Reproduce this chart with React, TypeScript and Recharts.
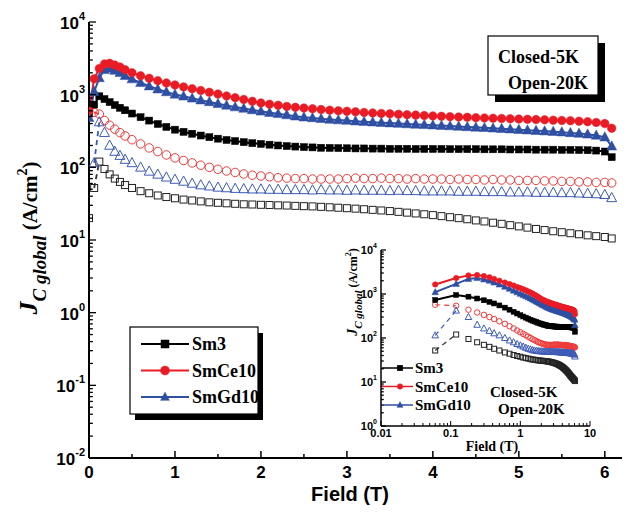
import React from 'react';
import { LineChart, Line, XAxis, YAxis } from 'recharts';

// field in tesla
const field = [
  0, 0.06, 0.12, 0.18, 0.24, 0.3, 0.36, 0.42,
  0.5, 0.6, 0.7, 0.8, 0.9,
  1.0, 1.1, 1.2, 1.3, 1.4, 1.5, 1.6, 1.7, 1.8, 1.9,
  2.0, 2.1, 2.2, 2.3, 2.4, 2.5, 2.6, 2.7, 2.8, 2.9,
  3.0, 3.1, 3.2, 3.3, 3.4, 3.5, 3.6, 3.7, 3.8, 3.9,
  4.0, 4.1, 4.2, 4.3, 4.4, 4.5, 4.6, 4.7, 4.8, 4.9,
  5.0, 5.1, 5.2, 5.3, 5.4, 5.5, 5.6, 5.7, 5.8, 5.9,
  6.0, 6.08,
];

// closed symbols: 5 K
const sm3Closed = [
  560, 730, 950, 870, 790, 720, 660, 610,
  550, 490, 440, 395, 360,
  330, 308, 290, 274, 260, 248, 238, 230, 222, 215,
  210, 205, 200, 196, 193, 190, 188, 186, 185, 184,
  183, 182, 182, 181, 181, 180, 180, 180, 179, 179,
  179, 179, 178, 178, 178, 178, 177, 177, 177, 176,
  176, 176, 175, 175, 175, 174, 174, 173, 172, 170,
  165, 138,
];
const smCe10Closed = [
  600, 1650, 2300, 2650, 2700, 2550, 2400, 2200,
  2000, 1820, 1680, 1560, 1450,
  1360, 1280, 1210, 1140, 1080, 1020, 960, 910, 860, 810,
  770, 740, 715, 690, 670, 655, 640, 625, 612, 600,
  590, 580, 570, 560, 552, 545, 538, 530, 523, 516,
  510, 504, 498, 493, 488, 483, 478, 474, 470, 466,
  462, 458, 454, 450, 446, 442, 437, 432, 425, 415,
  400, 345,
];
const smGd10Closed = [
  480, 1100, 1700, 2200, 2300, 2150, 2000, 1820,
  1640, 1460, 1310, 1190, 1090,
  1010, 950, 890, 840, 795, 750, 710, 675, 645, 615,
  590, 565, 545, 525, 505, 490, 478, 466, 456, 447,
  440, 432, 425, 418, 412, 406, 400, 395, 390, 385,
  380, 375, 370, 365, 360, 355, 350, 345, 340, 335,
  330, 325, 320, 315, 310, 305, 298, 292, 285, 275,
  260, 195,
];

// open symbols: 20 K
const sm3Open = [
  20, 52, 120, 95, 80, 70, 63, 57,
  52, 47, 44, 41, 39,
  37.5, 36, 35, 34, 33, 32.5, 32, 31.5, 31, 30.8,
  30.5, 30.3, 30, 29.8, 29.5, 29.2, 29, 28.6, 28.2, 27.8,
  27.4, 27, 26.5, 26, 25.5, 25, 24.4, 23.8, 23.2, 22.6,
  22, 21.3, 20.6, 20, 19.3, 18.6, 18, 17.3, 16.7, 16,
  15.4, 14.8, 14.2, 13.7, 13.2, 12.8, 12.4, 12, 11.6, 11.3,
  11, 10.5,
];
const smCe10Open = [
  null, 570, 540, 440, 380, 335, 300, 270,
  240, 210, 185, 165, 148,
  135, 124, 115, 107, 100, 94, 89, 85, 81, 78,
  76, 74, 72, 71, 70, 70, 69, 69, 69, 69,
  70, 71, 70, 70, 71, 70, 70, 69, 70, 69,
  69, 69, 68, 69, 68, 68, 67, 68, 67, 67,
  66, 66, 66, 65, 65, 64, 64, 63, 63, 62,
  62, 61,
];
const smGd10Open = [
  null, 115, 420, 300, 200, 165, 145, 128,
  115, 100, 88, 80, 73,
  68, 64, 60, 57, 55, 53, 52, 51, 50.5, 50,
  50, 49.5, 49.5, 49, 49, 49, 48.5, 49, 48.5, 48.5,
  48, 48.5, 48, 48, 48, 47.5, 48, 47.5, 47.5, 47,
  47, 47, 47, 46.5, 46.5, 46.5, 46, 46, 46, 45.5,
  45.5, 45.5, 45, 45, 45, 44.5, 44.5, 44, 43.5, 43,
  42, 38,
];

const seriesNames = ['Sm3', 'SmCe10', 'SmGd10'];
const mainXTicks = [0, 0.5, 1, 1.5, 2, 2.5, 3, 3.5, 4, 4.5, 5, 5.5, 6];
const mainYMajor = [0.01, 0.1, 1, 10, 100, 1000, 10000];
const insetXMajor = [0.01, 0.1, 1, 10];
const insetYMajor = [1, 10, 100, 1000, 10000];
const minorSteps = [2, 3, 4, 5, 6, 7, 8, 9];

const withMinor = (major: number[]) => {
  const out: number[] = [];
  major.forEach((m, i) => {
    out.push(m);
    if (i < major.length - 1) minorSteps.forEach((s) => out.push(+(m * s).toPrecision(6)));
  });
  return out;
};

const RED = '#e91c26';
const BLUE = '#2f4fa3';
const RED_OPEN = '#ee3a3a';
const BLUE_OPEN = '#3d5bb5';
const SANS = '"Liberation Sans", Arial, sans-serif';
const SERIF = '"Liberation Serif", "Times New Roman", serif';

const rows = field.map((f, i) => ({
  field: f,
  sm3Closed: sm3Closed[i],
  smCe10Closed: smCe10Closed[i],
  smGd10Closed: smGd10Closed[i],
  sm3Open: sm3Open[i],
  smCe10Open: smCe10Open[i],
  smGd10Open: smGd10Open[i],
  sm3OpenDash: i === 1 || i === 2 ? sm3Open[i] : null,
  smCe10OpenDash: i === 1 || i === 2 ? smCe10Open[i] : null,
  smGd10OpenDash: i === 1 || i === 2 ? smGd10Open[i] : null,
}));
const insetRows = rows.filter((r) => r.field > 0);

type Shape = 'square' | 'circle' | 'triangle';

const drawMarker = (shape: Shape, cx: number, cy: number, s: number, color: string, filled: boolean, key?: any) => {
  const fill = filled ? color : 'none';
  const sw = filled ? 0.5 : 1;
  if (shape === 'square')
    return <rect key={key} x={cx - s / 2} y={cy - s / 2} width={s} height={s} fill={fill} stroke={color} strokeWidth={sw} />;
  if (shape === 'circle')
    return <circle key={key} cx={cx} cy={cy} r={s / 2} fill={fill} stroke={color} strokeWidth={sw} />;
  const pts = `${cx},${cy - s * 0.6} ${cx - s * 0.55},${cy + s * 0.42} ${cx + s * 0.55},${cy + s * 0.42}`;
  return <polygon key={key} points={pts} fill={fill} stroke={color} strokeWidth={sw} />;
};

const dotFn = (shape: Shape, s: number, color: string, filled: boolean) => (p: any) => {
  if (p.cx == null || p.cy == null || !Number.isFinite(p.cy) || p.value == null)
    return <g key={p.index} />;
  return drawMarker(shape, p.cx, p.cy, s, color, filled, p.index);
};

const isMajor = (v: number) => Math.abs(Math.log10(v) - Math.round(Math.log10(v))) < 1e-6;

const logYTick = (fs: number, supFs: number, len: number, base: number, dy: number) => (p: any) => {
  const v = p.payload.value;
  const major = isMajor(v);
  return (
    <g>
      <line x1={p.x} x2={p.x + (major ? len : len * 0.55)} y1={p.y} y2={p.y} stroke="#000" strokeWidth={1.3} />
      {major && (
        <text x={p.x - 4} y={p.y + base} textAnchor="end" fontFamily={SANS} fontWeight="bold" fontSize={fs} fill="#000">
          10<tspan dy={dy} fontSize={supFs}>{Math.round(Math.log10(v))}</tspan>
        </text>
      )}
    </g>
  );
};

const mainXTick = (p: any) => {
  const v = p.payload.value;
  const major = Number.isInteger(v);
  return (
    <g>
      <line x1={p.x} x2={p.x} y1={p.y} y2={p.y - (major ? 7 : 4)} stroke="#000" strokeWidth={1.5} />
      {major && (
        <text x={p.x} y={p.y + 20} textAnchor="middle" fontFamily={SANS} fontWeight="bold" fontSize={17} fill="#000">
          {v}
        </text>
      )}
    </g>
  );
};

const insetXTick = (p: any) => {
  const v = p.payload.value;
  const major = isMajor(v);
  return (
    <g>
      <line x1={p.x} x2={p.x} y1={p.y} y2={p.y - (major ? 5 : 3)} stroke="#000" strokeWidth={1} />
      {major && (
        <text x={p.x} y={p.y + 11} textAnchor="middle" fontFamily={SANS} fontWeight="bold" fontSize={11} fill="#000">
          {v}
        </text>
      )}
    </g>
  );
};

const renderSeries = (sq: number, ci: number, tr: number, dashW: number) => [
  <Line key="d1" dataKey="sm3OpenDash" stroke="#333" strokeWidth={dashW} strokeDasharray="5 4" dot={false} activeDot={false} isAnimationActive={false} />,
  <Line key="d2" dataKey="smCe10OpenDash" stroke={RED_OPEN} strokeWidth={dashW} strokeDasharray="5 4" dot={false} activeDot={false} isAnimationActive={false} />,
  <Line key="d3" dataKey="smGd10OpenDash" stroke={BLUE_OPEN} strokeWidth={dashW} strokeDasharray="5 4" dot={false} activeDot={false} isAnimationActive={false} />,
  <Line key="o1" dataKey="sm3Open" stroke="none" dot={dotFn('square', sq, '#222', false)} activeDot={false} isAnimationActive={false} />,
  <Line key="o2" dataKey="smCe10Open" stroke="none" dot={dotFn('circle', ci, RED_OPEN, false)} activeDot={false} isAnimationActive={false} />,
  <Line key="o3" dataKey="smGd10Open" stroke="none" dot={dotFn('triangle', tr, BLUE_OPEN, false)} activeDot={false} isAnimationActive={false} />,
  <Line key="c1" dataKey="sm3Closed" stroke="#000" strokeWidth={2} dot={dotFn('square', sq, '#000', true)} activeDot={false} isAnimationActive={false} />,
  <Line key="c3" dataKey="smGd10Closed" stroke={BLUE} strokeWidth={2} dot={dotFn('triangle', tr, BLUE, true)} activeDot={false} isAnimationActive={false} />,
  <Line key="c2" dataKey="smCe10Closed" stroke={RED} strokeWidth={2} dot={dotFn('circle', ci, RED, true)} activeDot={false} isAnimationActive={false} />,
];

const legendColors = ['#000', RED, BLUE];
const legendShapes: Shape[] = ['square', 'circle', 'triangle'];

export default function App() {
  return (
    <div style={{ position: 'absolute', left: 0, top: 0, width: 630, height: 513, background: '#fff' }}>
      <div style={{ position: 'absolute', left: 0, top: 0 }}>
        <LineChart width={630} height={513} data={rows} margin={{ top: 22, right: 8, left: 0, bottom: 0 }}>
          <XAxis dataKey="field" type="number" domain={[0, 6.2]} allowDataOverflow ticks={mainXTicks} interval={0}
            height={55} tickSize={0} tickMargin={0} tickLine={false} tick={mainXTick}
            axisLine={{ stroke: '#000', strokeWidth: 2 }} />
          <XAxis xAxisId="top" orientation="top" type="number" domain={[0, 1]} height={0} tick={false} tickLine={false}
            axisLine={{ stroke: '#000', strokeWidth: 2 }} />
          <YAxis type="number" scale="log" domain={[0.01, 10000]} allowDataOverflow ticks={withMinor(mainYMajor)} interval={0}
            width={89} tickSize={0} tickMargin={0} tickLine={false} tick={logYTick(17, 11, 7, 7, -9)}
            axisLine={{ stroke: '#000', strokeWidth: 2 }} />
          <YAxis yAxisId="right" orientation="right" type="number" domain={[0, 1]} width={0} tick={false} tickLine={false}
            axisLine={{ stroke: '#000', strokeWidth: 2 }} />
          {renderSeries(7, 8.5, 9, 1.8)}
        </LineChart>
      </div>

      <div style={{ position: 'absolute', left: 340, top: 234 }}>
        <LineChart width={260} height={225} data={insetRows} margin={{ top: 16, right: 10, left: 0, bottom: 0 }}>
          <XAxis dataKey="field" type="number" scale="log" domain={[0.01, 10]} allowDataOverflow ticks={withMinor(insetXMajor)} interval={0}
            height={33} tickSize={0} tickMargin={0} tickLine={false} tick={insetXTick}
            axisLine={{ stroke: '#000', strokeWidth: 1.5 }} />
          <XAxis xAxisId="top" orientation="top" type="number" domain={[0, 1]} height={0} tick={false} tickLine={false}
            axisLine={{ stroke: '#000', strokeWidth: 1.5 }} />
          <YAxis type="number" scale="log" domain={[1, 10000]} allowDataOverflow ticks={withMinor(insetYMajor)} interval={0}
            width={41} tickSize={0} tickMargin={0} tickLine={false} tick={logYTick(11, 7, 5, 4, -6)}
            axisLine={{ stroke: '#000', strokeWidth: 1.5 }} />
          <YAxis yAxisId="right" orientation="right" type="number" domain={[0, 1]} width={0} tick={false} tickLine={false}
            axisLine={{ stroke: '#000', strokeWidth: 1.5 }} />
          {renderSeries(5, 5.5, 6, 1.2)}
        </LineChart>
      </div>

      <svg width={630} height={513} style={{ position: 'absolute', left: 0, top: 0, pointerEvents: 'none' }}>
        {/* main axis titles */}
        <text x={350} y={501} textAnchor="middle" fontFamily={SANS} fontWeight="bold" fontSize={20} fill="#000">Field (T)</text>
        <text transform="translate(37,238) rotate(-90)" textAnchor="middle" fontFamily={SERIF} fontWeight="bold" fill="#000">
          <tspan fontSize={26} fontStyle="italic">J</tspan>
          <tspan fontSize={19} fontStyle="italic" dy={9}>C global</tspan>
          <tspan fontSize={21} dy={-9}> (A/cm</tspan>
          <tspan fontSize={14} dy={-10}>2</tspan>
          <tspan fontSize={21} dy={10}>)</tspan>
        </text>

        {/* main legend */}
        <rect x={135} y={333} width={128} height={87} fill="#000" />
        <rect x={130} y={327} width={128} height={87} fill="#fff" stroke="#000" strokeWidth={1.2} />
        {seriesNames.map((n, i) => {
          const y = 344 + i * 26.5;
          return (
            <g key={n}>
              <line x1={141} x2={189} y1={y} y2={y} stroke={legendColors[i]} strokeWidth={2} />
              {drawMarker(legendShapes[i], 165, y, i === 1 ? 9 : 8, legendColors[i], true)}
              <text x={192} y={y + 6} fontFamily={SERIF} fontWeight="bold" fontSize={18} fill="#000">{n}</text>
            </g>
          );
        })}

        {/* condition box */}
        <rect x={495} y={43} width={110} height={59} fill="#000" />
        <rect x={488} y={36} width={110} height={59} fill="#fff" stroke="#000" strokeWidth={1.2} />
        <text x={498} y={63} fontFamily={SERIF} fontWeight="bold" fontSize={18} fill="#000">Closed-5K</text>
        <text x={508} y={89} fontFamily={SERIF} fontWeight="bold" fontSize={18} fill="#000">Open-20K</text>

        {/* inset titles */}
        <text x={492} y={451} textAnchor="middle" fontFamily={SERIF} fontWeight="bold" fontSize={14} fill="#000">Field (T)</text>
        <text transform="translate(357,292) rotate(-90)" textAnchor="middle" fontFamily={SERIF} fontWeight="bold" fill="#000">
          <tspan fontSize={14} fontStyle="italic">J</tspan>
          <tspan fontSize={11} fontStyle="italic" dy={5}>C global</tspan>
          <tspan fontSize={12} dy={-5}> (A/cm</tspan>
          <tspan fontSize={8} dy={-6}>2</tspan>
          <tspan fontSize={12} dy={6}>)</tspan>
        </text>

        {/* inset legend */}
        {seriesNames.map((n, i) => {
          const y = 368 + i * 18.5;
          return (
            <g key={'in' + n}>
              <line x1={382} x2={413} y1={y} y2={y} stroke={legendColors[i]} strokeWidth={1.5} />
              {drawMarker(legendShapes[i], 400, y, 5.5, legendColors[i], true)}
              <text x={415} y={y + 5} fontFamily={SERIF} fontWeight="bold" fontSize={15} fill="#000">{n}</text>
            </g>
          );
        })}
        <text x={490} y={397} fontFamily={SERIF} fontWeight="bold" fontSize={15} fill="#000">Closed-5K</text>
        <text x={498} y={414} fontFamily={SERIF} fontWeight="bold" fontSize={15} fill="#000">Open-20K</text>
      </svg>
    </div>
  );
}
